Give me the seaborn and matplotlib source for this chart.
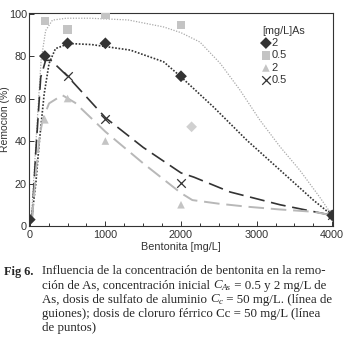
import seaborn as sns
import matplotlib.pyplot as plt
from matplotlib.ticker import MultipleLocator
import pandas as pd

# datos medidos (remoción %) vs dosis de bentonita
bent = [0, 200, 500, 1000, 2000, 4000]
fe_2 = [3, 80, 86, 86, 70.5, 5]          # cloruro férrico, 2 mg/L
fe_05 = [None, 96.5, 92.5, 99.5, 94.5, 5.5]  # cloruro férrico, 0.5 mg/L
al_2 = [None, 50, 60, 40, 10, None]     # sulfato de aluminio, 2 mg/L
al_05_x = [500, 1000, 2000, 4000]
al_05 = [70.5, 50.2, 20.4, 5]           # sulfato de aluminio, 0.5 mg/L
extra_x = [2140]
extra_y = [46.7]

# curvas de ajuste
fit_fe05_x = [20, 100, 150, 210, 300, 480, 800, 1300, 1770, 2000, 2250, 2520, 2780, 3040, 3310, 3570, 3830, 4000]
fit_fe05_y = [3, 50, 78, 92, 96.9, 97.8, 97.8, 97, 93.7, 91, 86.6, 76.5, 64, 50, 37.3, 26.3, 13.8, 5]
fit_fe2_x = [30, 80, 125, 190, 255, 340, 520, 820, 1130, 1330, 1770, 2000, 2430, 2870, 3310, 3750, 4000]
fit_fe2_y = [5, 20, 39, 62, 76.5, 83.5, 85.9, 85.4, 83.8, 82.8, 77.3, 70.2, 56, 40.4, 26.3, 12.2, 5]
fit_al05_x = [30, 80, 145, 210, 280, 500, 1000, 1500, 2000, 2170, 2650, 3310, 4000]
fit_al05_y = [3, 35, 70, 78, 78, 70.5, 51, 37, 25, 23, 16, 10, 5]
fit_al2_x = [30, 80, 130, 170, 255, 430, 600, 1000, 1500, 2000, 2150, 2500, 2870, 3300, 3750, 4000]
fit_al2_y = [3, 25, 42, 50, 57.7, 61.6, 58, 44.4, 29.5, 15.5, 12.2, 10.5, 9.1, 7.8, 6.7, 5]

dark = '#333333'
light = '#c4c4c4'

sns.set_style('ticks')
plt.rcParams['font.family'] = ['Liberation Sans', 'DejaVu Sans']

fig = plt.figure(figsize=(3.5, 3.41), dpi=100)
ax = fig.add_axes([29 / 350, 1 - 226 / 341, 304 / 350, 213.5 / 341])

# curvas
sns.lineplot(x=fit_fe05_x, y=fit_fe05_y, ax=ax, color='#aaaaaa', lw=0.9, linestyle=(0, (1, 1.2)), sort=False)
sns.lineplot(x=fit_fe2_x, y=fit_fe2_y, ax=ax, color=dark, lw=1.2, linestyle=(0, (1, 1)), sort=False)
sns.lineplot(x=fit_al05_x, y=fit_al05_y, ax=ax, color=dark, lw=1.2, linestyle=(0, (9, 4)), sort=False)
sns.lineplot(x=fit_al2_x, y=fit_al2_y, ax=ax, color='#b8b8b8', lw=1.4, linestyle=(0, (8, 3.5)), sort=False)

# puntos
df = pd.DataFrame({'x': bent, 'fe2': fe_2, 'fe05': fe_05, 'al2': al_2})
sns.scatterplot(data=df, x='x', y='fe05', ax=ax, marker='s', s=36, color=light, edgecolor='none', label='0.5', zorder=3)
sns.scatterplot(data=df, x='x', y='al2', ax=ax, marker='^', s=30, color=light, edgecolor='none', label='2', zorder=3)
sns.scatterplot(x=extra_x, y=extra_y, ax=ax, marker='D', s=30, color='#d0d0d0', edgecolor='none', zorder=3)
sns.scatterplot(data=df, x='x', y='fe2', ax=ax, marker='D', s=36, color=dark, edgecolor='none', label='2', zorder=4)
sns.scatterplot(x=al_05_x, y=al_05, ax=ax, marker='x', s=38, color=dark, linewidth=0.9, label='0.5', zorder=4)

h, l = ax.get_legend_handles_labels()
order = [2, 0, 1, 3]
leg = ax.legend([h[i] for i in order], [l[i] for i in order], title='[mg/L]As',
                loc='upper left', bbox_to_anchor=(0.75, 0.965), frameon=False,
                fontsize=8, title_fontsize=7.8, handlelength=0.6, handletextpad=0.2,
                labelspacing=0.22, borderpad=0, alignment='left')
leg.get_title().set_color(dark)
for t in leg.get_texts():
    t.set_color(dark)

ax.set_xlim(-10, 4010)
ax.set_ylim(0, 100.5)
ax.set_xticks([0, 1000, 2000, 3000, 4000])
ax.set_yticks([0, 20, 40, 60, 80, 100])
ax.xaxis.set_minor_locator(MultipleLocator(250))
ax.tick_params(which='both', direction='in', color=dark, labelsize=7.8, labelcolor=dark, width=0.7)
ax.tick_params(which='major', length=3.5)
ax.tick_params(which='minor', length=2.5)
ax.tick_params(axis='x', pad=3)
ax.tick_params(axis='y', pad=1.5)
for s in ax.spines.values():
    s.set_color(dark)
    s.set_linewidth(0.8)
ax.set_xlabel('Bentonita [mg/L]', fontsize=7.8, color=dark, labelpad=1)
ax.set_ylabel('Remoción (%)', fontsize=7.5, color=dark)
ax.yaxis.set_label_coords(-19 / 304, 0.5)

# pie de figura: cada línea se escribe por tramos (texto normal, cursiva, subíndice)
serif = ['Liberation Serif', 'DejaVu Serif']
cap = 9.3
renderer = fig.canvas.get_renderer()


def write_runs(x_px, y_px, runs):
    for txt, style, dy, size in runs:
        t = fig.text(x_px / 350, 1 - (y_px + dy) / 341, txt, fontsize=size,
                     family=serif, style=style, va='baseline')
        x_px += t.get_window_extent(renderer).width


fig.text(4 / 350, 1 - 274.5 / 341, 'Fig 6.', fontsize=8.8, family=serif, weight='bold', va='baseline')
caption = [
    [('Influencia de la concentración de bentonita en la remo-', 'normal', 0, cap)],
    [('ción de As, concentración inicial ', 'normal', 0, cap), ('C', 'italic', 0, cap),
     ('As', 'italic', 2, 6.5), (' = 0.5 y 2 mg/L de', 'normal', 0, cap)],
    [('As, dosis de sulfato de aluminio ', 'normal', 0, cap), ('C', 'italic', 0, cap),
     ('c', 'italic', 2, 6.5), (' = 50 mg/L. (línea de', 'normal', 0, cap)],
    [('guiones); dosis de cloruro férrico Cc = 50 mg/L (línea', 'normal', 0, cap)],
    [('de puntos)', 'normal', 0, cap)],
]
for i, runs in enumerate(caption):
    write_runs(42, 274.5 + 14 * i, runs)

fig.savefig('out.png', dpi=100)
